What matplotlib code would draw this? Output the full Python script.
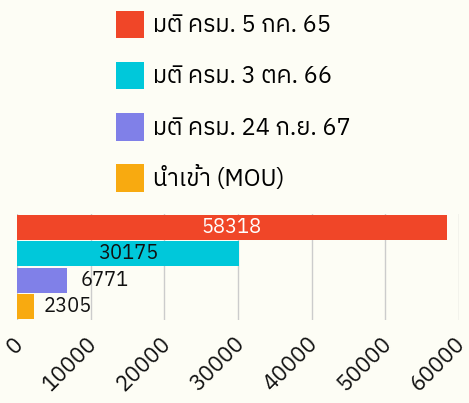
import matplotlib
matplotlib.use("Agg")
import matplotlib.pyplot as plt
import matplotlib.transforms as mtransforms
from matplotlib.patches import Patch

plt.rcParams["font.family"] = ["IBM Plex Sans Thai", "DejaVu Sans"]

# data
series = ["มติ ครม. 5 กค. 65", "มติ ครม. 3 ตค. 66", "มติ ครม. 24 ก.ย. 67", "นำเข้า (MOU)"]
values = [58318, 30175, 6771, 2305]
colors = ["#f04628", "#00c8da", "#8080e8", "#f8aa10"]
label_colors = ["white", "#111111", "#111111", "#111111"]
label_pads = [0, 0, 10, 7]  # points
xticks = [0, 10000, 20000, 30000, 40000, 50000, 60000]

bg = "#fdfdf5"
fig = plt.figure(figsize=(4.69, 4.03), dpi=100, facecolor=bg)
ax = fig.add_axes([17 / 469, 83 / 403, 442 / 469, 106 / 403], facecolor=bg)

for i, (name, v, c, lc, pad) in enumerate(zip(series, values, colors, label_colors, label_pads)):
    bars = ax.barh([i], [v], height=0.94, color=c, label=name, zorder=2)
    if v > 20000:
        ax.bar_label(bars, labels=[str(v)], label_type="center", color=lc, fontsize=14.5)
    else:
        ax.bar_label(bars, labels=[str(v)], label_type="edge", padding=pad, color=lc, fontsize=14.5)

ax.set_ylim(3.5, -0.5)
ax.set_xlim(0, 60000)
ax.set_yticks([])
ax.set_xticks(xticks)
ax.set_xticklabels([str(t) for t in xticks], rotation=45, ha="right", va="center",
                   rotation_mode="anchor", fontsize=16, color="#111111")
ax.tick_params(axis="x", length=0, pad=15)
shift = mtransforms.ScaledTranslation(3 / 100, 0, fig.dpi_scale_trans)
for lbl in ax.get_xticklabels():
    lbl.set_transform(lbl.get_transform() + shift)
ax.grid(axis="x", color="#cccccc", linewidth=1, zorder=0)
for s in ax.spines.values():
    s.set_visible(False)

handles = [Patch(facecolor=c, edgecolor="none") for c in colors]
fig.legend(handles, series, loc="upper center", bbox_to_anchor=(0.497, 1.0), frameon=False,
           fontsize=17, handlelength=1.19, handleheight=1.42, labelspacing=1.0,
           handletextpad=0.38, borderaxespad=0.05)

fig.savefig("out.png", dpi=100, facecolor=bg)
